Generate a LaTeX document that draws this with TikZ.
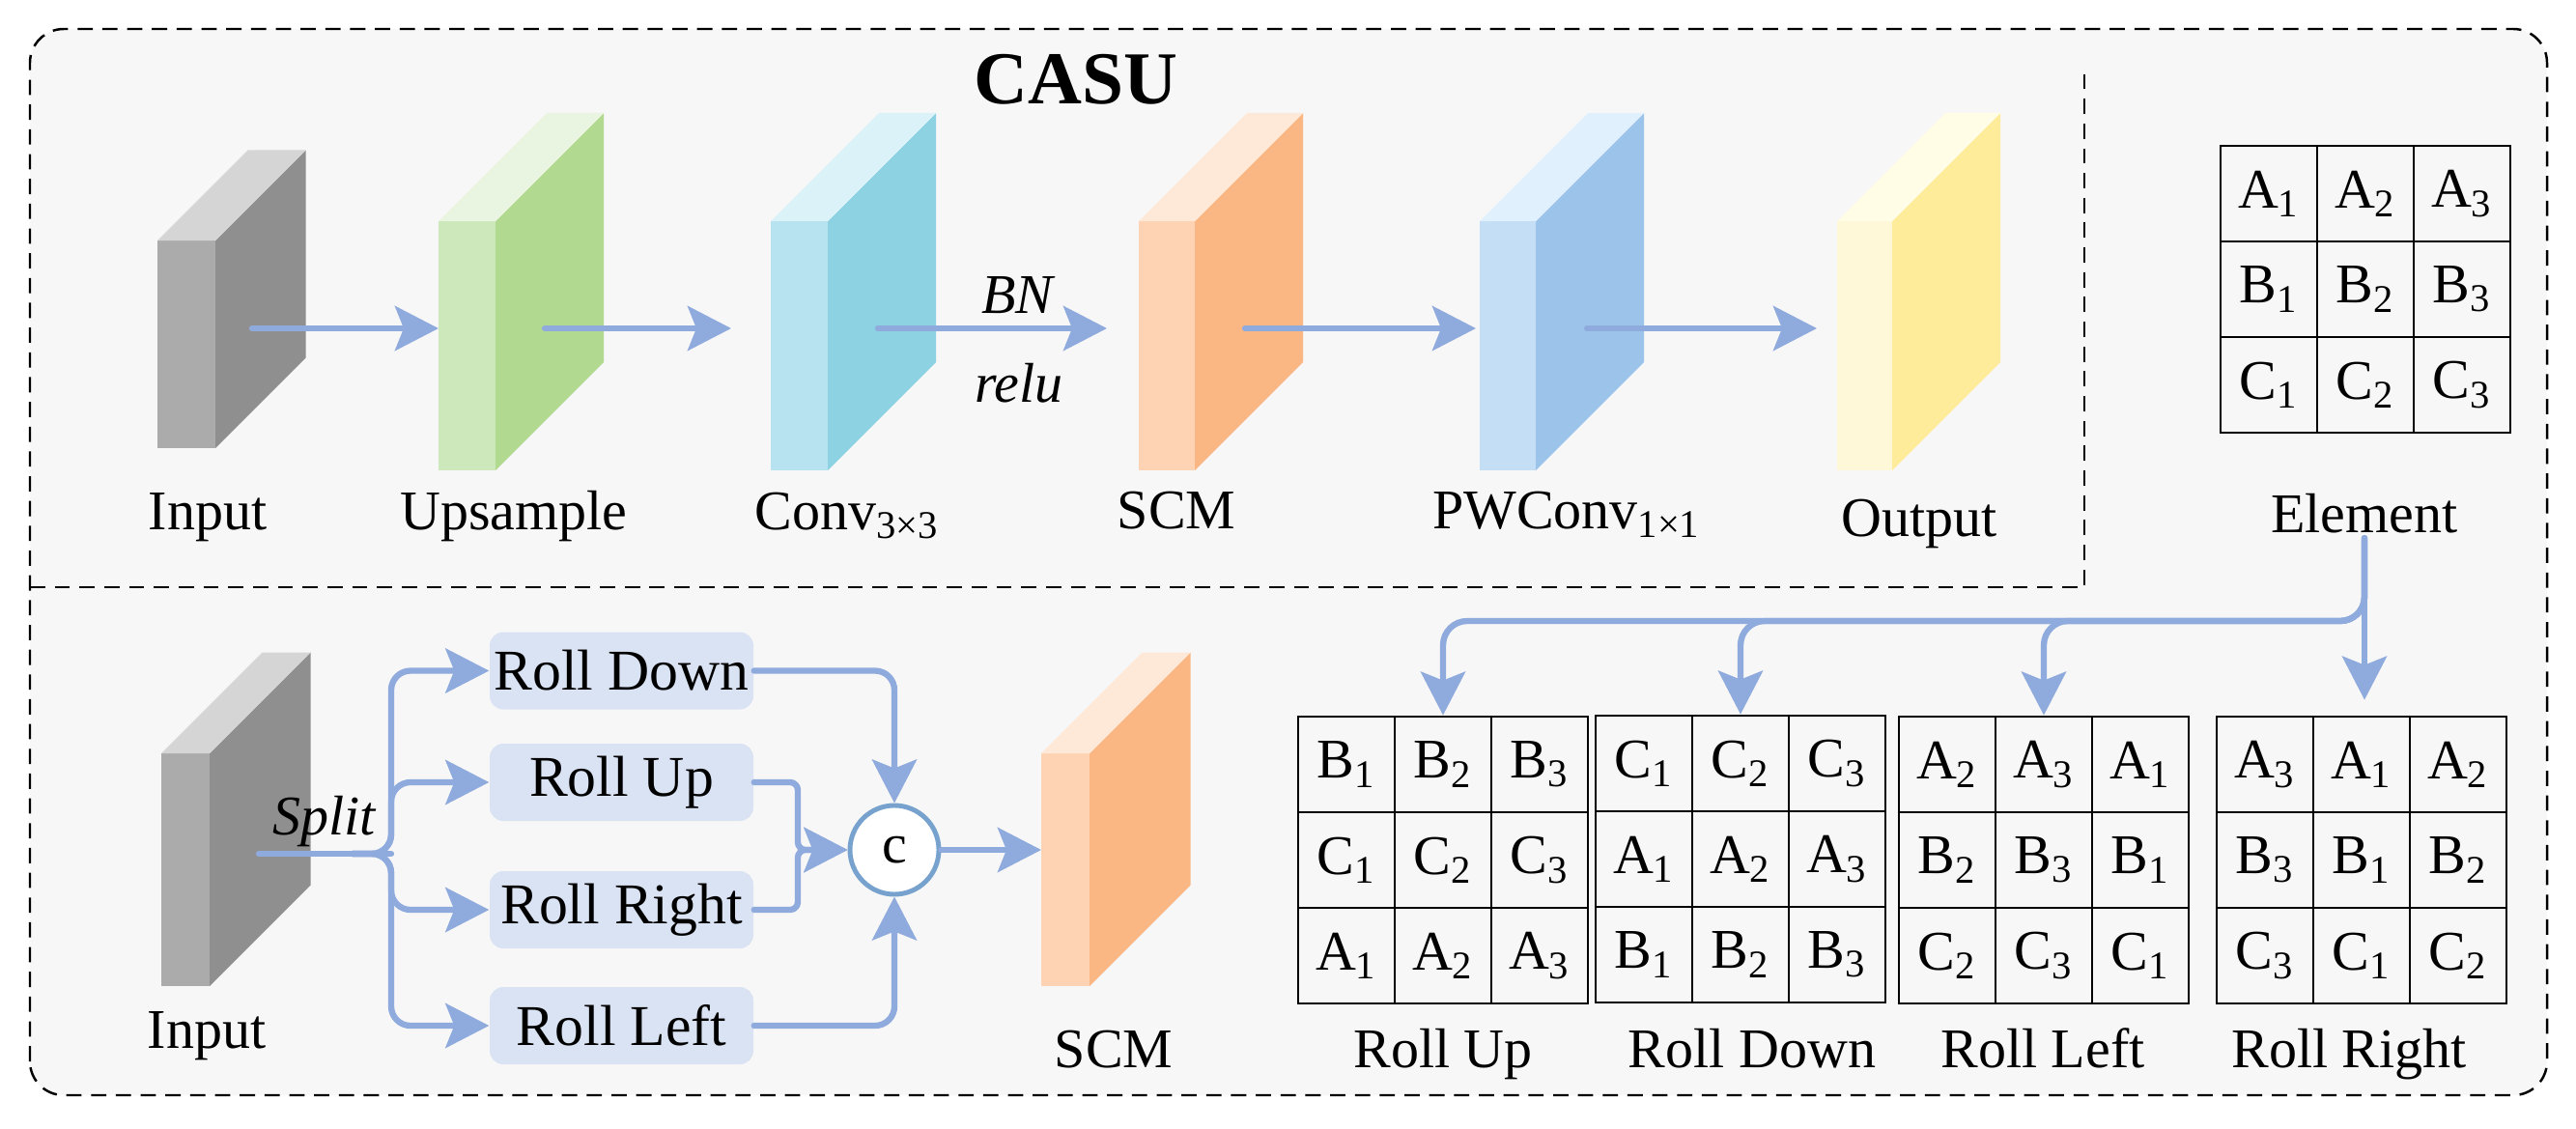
\documentclass[tikz,border=0pt]{standalone}
\usepackage{fontspec}
\setmainfont{Liberation Serif}
\usetikzlibrary{arrows.meta,positioning}

\definecolor{bgGray}{HTML}{F7F7F7}
\definecolor{flowBlue}{HTML}{8FAADC}
\definecolor{boxBlue}{HTML}{DAE3F3}
\definecolor{catBlue}{HTML}{78A2CE}
\definecolor{gryF}{HTML}{ABABAB}\definecolor{gryS}{HTML}{8F8F8F}\definecolor{gryT}{HTML}{D5D5D5}
\definecolor{grnF}{HTML}{CDE8BA}\definecolor{grnS}{HTML}{B1DA90}\definecolor{grnT}{HTML}{E9F5E0}
\definecolor{cynF}{HTML}{B7E2EF}\definecolor{cynS}{HTML}{8CD2E2}\definecolor{cynT}{HTML}{DBF2F8}
\definecolor{orgF}{HTML}{FDD3B3}\definecolor{orgS}{HTML}{FAB784}\definecolor{orgT}{HTML}{FEE9D9}
\definecolor{bluF}{HTML}{C4DEF6}\definecolor{bluS}{HTML}{9CC4EA}\definecolor{bluT}{HTML}{E1F0FD}
\definecolor{ylwF}{HTML}{FFF8D8}\definecolor{ylwS}{HTML}{FFEC9A}\definecolor{ylwT}{HTML}{FFFDE6}

\newcommand{\lblfont}{\fontsize{16.5}{19}\selectfont}

\newcommand{\slab}[6]{%
  \node[fill=#6F, inner sep=0pt, outer sep=0pt, minimum width=#3, minimum height=#4] (#1) at (#2) {};
  \fill[#6S] (#1.north east) -- (#1.south east) -- ++(#5,#5) -- ([shift={(#5,#5)}]#1.north east) -- cycle;
  \fill[#6T] (#1.north west) -- (#1.north east) -- ++(#5,#5) -- ([shift={(#5,#5)}]#1.north west) -- cycle;
}

\newcommand{\cellgrid}[4]{%
  \foreach \row [count=\i] in {#4}
    \foreach \cl/\cn [count=\j] in \row
      \node[cellbox] (#1-\i-\j) at ({#2+\j-0.5},{#3-0.99*\i+0.495}) {\cl\textsubscript{\cn}};
}

\begin{document}
\begin{tikzpicture}[every node/.style={font=\lblfont},
  sep/.style={black, line width=0.7pt, dash pattern=on 4.5pt off 2.8pt},
  link/.style={draw=flowBlue, line width=1.8pt, line cap=round, line join=round},
  flow/.style={link, -{Stealth[length=4.5mm, width=4.6mm, inset=0.9mm]}},
  rollbox/.style={fill=boxBlue, rounded corners=1.4mm, minimum width=2.73cm, minimum height=0.8cm, inner sep=0pt, font=\fontsize{17}{20}\selectfont},
  catnode/.style={circle, draw=catBlue, fill=white, line width=1.4pt, minimum size=0.92cm, inner sep=0pt},
  cellbox/.style={draw, line width=0.8pt, minimum width=1cm, minimum height=0.99cm, inner sep=0pt}]
	\useasboundingbox (0,0) rectangle (26.67,11.68);
	\draw[sep, fill=bgGray, rounded corners=3.5mm] (0.31,0.34) rectangle (26.37,11.38);
	\draw[sep] (0.31,5.60) -- (21.58,5.60) -- (21.58,10.98);
	\node[font=\fontsize{22}{26}\selectfont\bfseries] (casu) at (11.14,10.86) {CASU};

	\slab{in}{1.93,8.115}{0.60cm}{2.15cm}{0.935}{gry}
	\slab{up}{4.835,8.10}{0.59cm}{2.58cm}{1.12}{grn}
	\slab{cv}{8.275,8.10}{0.59cm}{2.58cm}{1.12}{cyn}
	\slab{scm}{12.08,8.10}{0.58cm}{2.58cm}{1.12}{org}
	\slab{pw}{15.61,8.10}{0.58cm}{2.58cm}{1.12}{blu}
	\slab{out}{19.305,8.10}{0.57cm}{2.58cm}{1.12}{ylw}

	\coordinate (ay) at (0,8.28);
	\draw[flow] ([xshift=3.8mm]in.east |- ay) -- (up.west |- ay);
	\draw[flow, shorten >=4.1mm] ([xshift=5.1mm]up.east |- ay) -- (cv.west |- ay);
	\draw[flow, shorten >=3.3mm] ([xshift=5.2mm]cv.east |- ay) -- node[pos=0.54, above] (bn) {\textit{BN}} node[pos=0.54, below=2.1mm] (relu) {\textit{relu}} (scm.west |- ay);
	\draw[flow, shorten >=0.4mm] ([xshift=5.2mm]scm.east |- ay) -- (pw.west |- ay);
	\draw[flow, shorten >=2.1mm] ([xshift=5.3mm]pw.east |- ay) -- (out.west |- ay);

	\node[anchor=base] (lin) at (2.15,6.20) {Input};
	\node[anchor=base] (lup) at (5.32,6.20) {Upsample};
	\node[anchor=base] (lcv) at (8.77,6.20) {Conv\textsubscript{3×3}};
	\node[anchor=base] (lscm) at (12.18,6.21) {SCM};
	\node[anchor=base] (lpw) at (16.22,6.21) {PWConv\textsubscript{1×1}};
	\node[anchor=base] (lout) at (19.87,6.13) {Output};

	\cellgrid{gel}{22.99}{10.17}{{A/1,A/2,A/3},{B/1,B/2,B/3},{C/1,C/2,C/3}}
	\node[anchor=base, inner sep=0.5mm] (el) at (24.48,6.17) {Element};

	\cellgrid{gup}{13.44}{4.26}{{B/1,B/2,B/3},{C/1,C/2,C/3},{A/1,A/2,A/3}}
	\cellgrid{gdn}{16.52}{4.27}{{C/1,C/2,C/3},{A/1,A/2,A/3},{B/1,B/2,B/3}}
	\cellgrid{glt}{19.66}{4.26}{{A/2,A/3,A/1},{B/2,B/3,B/1},{C/2,C/3,C/1}}
	\cellgrid{grt}{22.95}{4.26}{{A/3,A/1,A/2},{B/3,B/1,B/2},{C/3,C/1,C/2}}
	\node[anchor=base] (lgup) at (14.94,0.63) {Roll Up};
	\node[anchor=base] (lgdn) at (18.14,0.63) {Roll Down};
	\node[anchor=base] (lglt) at (21.15,0.63) {Roll Left};
	\node[anchor=base] (lgrt) at (24.32,0.63) {Roll Right};

	\coordinate (hub) at (24.49,5.25);
	\draw[flow] (el.south) -- ([yshift=1.6mm]el.south |- grt-1-2.north);
	\foreach \g in {gup,gdn,glt}
		\draw[flow, rounded corners=2.5mm] (el.south) |- (hub -| \g-1-2.north) -- (\g-1-2.north);

	\slab{inb}{1.92,2.675}{0.50cm}{2.41cm}{1.045}{gry}
	\slab{scmb}{11.03,2.675}{0.50cm}{2.41cm}{1.045}{org}
	\node[anchor=base] (linb) at (2.14,0.83) {Input};
	\node[anchor=base] (lscmb) at (11.53,0.63) {SCM};

	\node[rollbox] (rd) at (6.435,4.735) {Roll Down};
	\node[rollbox] (ru) at (6.435,3.58) {Roll Up};
	\node[rollbox] (rr) at (6.435,2.26) {Roll Right};
	\node[rollbox] (rl) at (6.435,1.06) {Roll Left};
	\node[catnode] (cat) at (9.26,2.88) {c};

	\coordinate (fork) at (4.05,2.84);
	\coordinate (sp) at ([xshift=5.1mm]inb.east |- fork);
	\draw[link] (sp) -- node[above, inner sep=1pt] (split) {\textit{Split}} (fork);
	\foreach \b in {rd,ru,rr,rl}
		\draw[flow, rounded corners=2mm] ([xshift=-4mm]fork) -- (fork) |- (\b.west);

	\coordinate (merge) at (8.26,2.88);
	\draw[flow, rounded corners=2mm] (rd.east) -| (cat.north);
	\draw[flow, rounded corners=2mm] (rl.east) -| (cat.south);
	\draw[flow, rounded corners=0.8mm] (ru.east) -| (merge) -- (cat.west);
	\draw[flow, rounded corners=0.8mm] (rr.east) -| (merge) -- (cat.west);
	\draw[flow] (cat) -- (scmb.west |- cat);
\end{tikzpicture}
\end{document}
